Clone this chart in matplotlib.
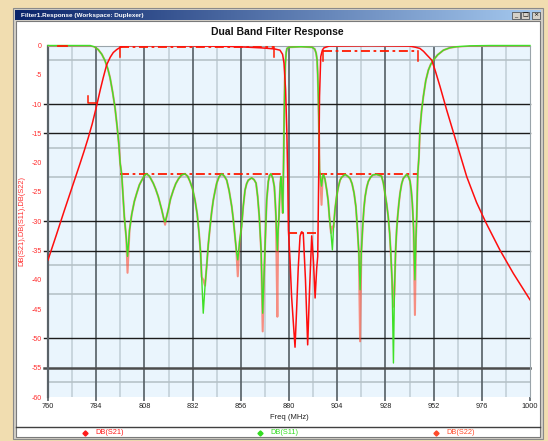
import numpy as np
import matplotlib
matplotlib.use("Agg")
import matplotlib.pyplot as plt
from matplotlib.patches import Rectangle
from matplotlib.lines import Line2D
from matplotlib.colors import LinearSegmentedColormap

plt.rcParams['font.family'] = ['Liberation Sans', 'DejaVu Sans']

W, H = 548, 441

# ---- data (MHz, dB) ----
s21_freq = [760, 764, 768, 772, 776, 778, 780, 782, 784, 786, 787.5, 789.2, 791, 792.5, 794.2,
            796, 797.4, 800, 820, 840, 850, 860, 866, 870, 873, 875.5, 876.8, 877.5, 878.3,
            878.9, 879.4, 879.7, 880.1, 880.5, 881.3, 882.2, 883, 883.8, 884.6, 885.5, 886.3,
            887.1, 888.2, 889.3, 890.2, 891.3, 892.2, 893, 893.8, 894.3, 894.8, 895.2, 895.8,
            896.6, 897.4, 900, 920, 940, 943, 945.2, 947, 948.6, 951.1, 953, 955.2, 958.5,
            963.5, 968.5, 973.4, 978, 985, 991.7, 1000]
s21_db = [-36.6, -32.5, -28.3, -24.2, -20.1, -18.0, -15.8, -13.4, -10.6, -7.6, -5.5, -3.3, -2.0,
          -1.2, -0.7, -0.3, -0.1, -0.05, -0.05, -0.1, -0.15, -0.3, -0.4, -0.5, -0.6, -0.8, -1.5,
          -3.0, -7.5, -14.4, -23, -31.5, -34, -36.6, -42.9, -47.5, -51.5, -45, -38, -32.5, -31.8,
          -32, -40, -51.1, -42, -32.5, -37, -43.1, -38, -36, -22, -8.7, -1.9,
          -0.8, -0.4, -0.1, -0.05, -0.1, -0.3, -0.5, -1.0, -1.6, -2.5, -4.5, -7, -11,
          -16.7, -22.4, -26.8, -30.2, -34.9, -38.9, -43.4]

s11_freq = [760, 770, 778, 781, 783, 785, 786.8, 788.4, 789.8, 790.9, 792.2, 793.4, 794.5, 795.3,
            795.9, 796.7, 798, 799, 799.6, 800.6, 801.7, 803, 804.2, 805.5, 806.7, 808, 809.1,
            810.5, 812.4, 813.6, 814.9, 816.6, 817.6, 818.3, 819, 819.9, 821, 822.4, 823.6,
            824.9, 826.5, 828.2, 829.5, 830.7, 832, 833.2, 834.3, 835.2, 836, 836.5, 837.3,
            838.2, 839, 839.8, 840.7, 841.5, 842.3, 843.2, 844, 845.2, 846.5, 847.8, 849,
            850.2, 851.5, 852.3, 853.1, 853.8, 854.5, 855.4, 856.4, 857.2, 858.1, 858.9, 859.7,
            861.4, 862.6, 863.6, 864.4, 865.2, 866.1, 866.9, 867.5, 868, 868.5, 868.9, 869.7,
            870.3, 871, 871.9, 872.7, 873.2, 873.5, 874.2, 874.6, 875, 875.4, 875.7, 876,
            876.4, 876.9, 877.3, 877.6, 877.9, 878.2, 878.6, 879, 880, 886, 891.5, 892.8,
            893.5, 894, 894.3, 894.6, 894.9, 895.2, 895.6, 896.2, 896.7, 897.1, 897.9, 898.8,
            899.5, 900.1, 900.9, 901.6, 902.2, 902.9, 903.7, 904.6, 905.4, 906.2, 907.9, 909.2,
            910.4, 911.4, 912.4, 913.3, 914, 914.8, 915.4, 916, 916.7, 917.3, 917.9, 918.7,
            919.5, 920.6, 921.7, 923.6, 926.1, 927, 927.8, 928.6, 929.4, 930.1, 930.6, 931.3,
            932, 932.5, 933.1, 933.6, 934.1, 934.7, 935.3, 936.1, 936.9, 938.6, 939.5, 940.3,
            940.9, 941.4, 942, 942.7, 943.2, 943.6, 944.1, 944.7, 945.2, 946, 946.9, 948.1,
            949.4, 950.6, 951.9, 954, 956.9, 960, 963.5, 970, 980, 1000]
s11_db = [0, 0, 0, 0, -0.2, -0.7, -1.5, -2.6, -4.0, -5.5, -8.0, -10.7, -14.1, -17.0,
          -20, -22, -29.2, -33, -36, -31.5, -28.8, -26.6, -25.2, -23.8, -23, -22.2, -21.9,
          -22.3, -23.5, -24.5, -25.8, -28, -29.5, -30.1, -29.3, -28, -26.2, -24.7, -23.6,
          -22.8, -22.1, -21.9, -22.3, -23.2, -24.5, -26.4, -28.8, -32, -35.5, -39.5, -45.7,
          -41, -37.7, -34, -30.9, -28.4, -26.4, -24.8, -23.5, -22.4, -21.9, -22.3, -23,
          -24.8, -27.5, -29.8, -32.6, -35, -36.6, -33.5, -30.9, -27.5, -24.7, -23.6, -23,
          -22.6, -22.9, -23.5, -25.8, -29.2, -34.9, -45.7, -40, -34.9, -30, -26.4, -23.2,
          -22.2, -21.9, -22.6, -24.1, -27, -29.2, -35, -31.5, -29.2, -25.5, -23.5, -22.4,
          -24.5, -28.6, -20, -12, -6, -3, -1.2, -0.5, -0.3, -0.2, -0.3, -0.6,
          -1.3, -2.5, -5, -8.7, -14, -21.2, -22.5, -24, -22.6, -22, -22.8, -24.7,
          -26.5, -29.2, -32, -34.9, -31, -28, -25.8, -24.1, -23, -22.5, -22, -22.3,
          -22.7, -23.6, -25.2, -27.5, -30.9, -35.5, -41.7, -35.5, -30.9, -27.8, -25.8, -24.2,
          -23.2, -22.5, -22.1, -22, -22.3, -23.5, -25.2, -27, -29.2, -32, -34.9, -40,
          -54.2, -42, -34.9, -31.5, -29.2, -27, -25.2, -23.6, -22.7, -22, -22.4, -23.2,
          -24.8, -26.9, -31, -40, -33, -29.2, -22, -19, -14.4, -11.2, -8.7, -6,
          -4.2, -3.2, -2.5, -1.6, -0.8, -0.4, -0.2, -0.05, 0, 0]

# S22 follows S11 except at the dips, where its depth differs
s22_dips = {799.6: -38.8, 818.3: -30.6, 837.3: -40, 854.5: -39.4, 866.9: -48.8,
            874.2: -46.3, 896.2: -27.2, 901.6: -30.9, 915.4: -50.5, 932: -44.6, 942.7: -46}

# spec masks: (f start, f end, level)
mask_lines = [(796, 872.5, -0.3), (796, 877, -22), (897, 944, -0.9),
              (894.6, 944, -22), (879.5, 893.5, -32)]
mask_ticks = [(796, -0.3, -2.0), (872.5, -0.3, -2.0), (897, -0.9, -2.6), (944, -0.9, -2.6)]
stop_mark_f = [779.9, 779.9, 784.2]
stop_mark_db = [-8.6, -9.9, -9.9]
top_mark_f = [765, 769.5]
top_mark_db = [0, 0]

x_ticks = list(range(760, 1001, 24))
y_ticks = list(range(0, -61, -5))
dark_h = [-10, -15, -30, -35, -50]
light_h = [-2.5, -17.5, -22.5, -37.5, -42.5, -57.5]
minor_v = list(range(772, 1000, 24))
legend_names = ['DB(S21)', 'DB(S11)', 'DB(S22)']


def fx(x):
    return x / W


def fy(y):
    return 1 - y / H


fig = plt.figure(figsize=(5.48, 4.41), dpi=100, facecolor='#f1ddb0')

# window frame and client area (behind the axes)
fig.add_artist(Rectangle((fx(13), fy(439)), fx(530), (439 - 8) / H, transform=fig.transFigure,
                         facecolor='#d4d0c8', edgecolor='#8a8a8a', lw=0.8, zorder=-3))
fig.add_artist(Rectangle((fx(16), fy(437)), fx(524), (437 - 21) / H, transform=fig.transFigure,
                         facecolor='white', edgecolor='#7a7a7a', lw=0.8, zorder=-2))

# title bar
tb = fig.add_axes([fx(15), fy(20), fx(526), 10 / H])
tb.imshow(np.linspace(0, 1, 256)[None, :], aspect='auto', extent=[0, 1, 0, 1],
          cmap=LinearSegmentedColormap.from_list('tb', ['#0a246a', '#a6caf0']))
tb.axis('off')
tb.text(0.012, 0.5, 'Filter1.Response (Workspace: Duplexer)', color='white', fontsize=4.6,
        fontweight='bold', va='center', ha='left', transform=tb.transAxes)
for bx, sym in zip([512, 521, 532], ['_', '□', '×']):
    fig.add_artist(Rectangle((fx(bx), fy(18.5)), 8 / W, 7 / H, transform=fig.transFigure,
                             facecolor='#d4d0c8', edgecolor='#404040', lw=0.5, zorder=2))
    fig.text(fx(bx + 4), fy(15), sym, fontsize=4.5, ha='center', va='center',
             family=['DejaVu Sans'], zorder=3)

fig.text(fx(277.5), fy(32), 'Dual Band Filter Response', fontsize=7.5, fontweight='bold',
         ha='center', va='center', color='#111111')

ax = fig.add_axes([fx(48), fy(397), 482 / W, (397 - 45.5) / H])
ax.set_facecolor('#eaf5fd')
ax.set_xlim(760, 1000)
ax.set_ylim(-60, 0)

for x in minor_v:
    ax.axvline(x, color='#c3d0d8', lw=1.2, zorder=1)
for y in light_h:
    ax.axhline(y, color='#b3bfc4', lw=1.1, zorder=1)
for x in x_ticks[1:-1]:
    ax.axvline(x, color='#555e64', lw=1.2, zorder=1.5)
for y in dark_h:
    ax.axhline(y, xmin=-0.009, color='#1c1c1c', lw=1.0, zorder=1.5, clip_on=False)
ax.axhline(-55, xmin=-0.009, color='#4c4c4c', lw=1.8, zorder=1.5, clip_on=False)

# masks
for f0, f1, lvl in mask_lines:
    ax.plot([f0, f1], [lvl, lvl], color='#ff1a00', lw=1.3, ls=(0, (5, 2, 1.5, 2)), zorder=3)
for f, a, b in mask_ticks:
    ax.plot([f, f], [a, b], color='#ff1a00', lw=1.1, zorder=3)
ax.plot(stop_mark_f, stop_mark_db, color='#ff1a00', lw=1.1, zorder=3)
ax.plot(top_mark_f, top_mark_db, color='#ff1a00', lw=1.3, zorder=5, clip_on=False)

s22_db = [s22_dips.get(f, d) for f, d in zip(s11_freq, s11_db)]
ax.plot(s11_freq, s22_db, color='#ff4a30', lw=1.5, alpha=0.6, zorder=3.5)
ax.plot(s11_freq, s11_db, color='#3fe026', lw=1.0, zorder=4, clip_on=False)
ax.plot(s21_freq, s21_db, color='#ff0d0d', lw=1.1, zorder=4.5)

ax.set_xticks(x_ticks)
ax.set_yticks(y_ticks)
ax.set_yticklabels([str(v) for v in y_ticks])
ax.tick_params(axis='x', length=3, width=1.2, color='#555e64', pad=1.5, labelsize=5.3,
               labelcolor='#222222')
ax.tick_params(axis='y', length=0, pad=4.5, labelsize=5, labelcolor='#ff2a2a')
for side in ['top', 'right', 'bottom']:
    ax.spines[side].set_color('#9aa4aa')
    ax.spines[side].set_linewidth(0.8)
ax.spines['left'].set_color('#5a6268')
ax.spines['left'].set_linewidth(1.6)
ax.spines['bottom'].set_visible(False)

ax.set_xlabel('Freq (MHz)', fontsize=5.5, labelpad=3, color='#222222')
ax.set_ylabel('DB(S21),DB(S11),DB(S22)', fontsize=5.4, color='#ff3030')
ax.yaxis.set_label_coords(-0.047, 0.5)

# legend strip
fig.add_artist(Line2D([fx(16), fx(540)], [fy(427), fy(427)], transform=fig.transFigure,
                      color='#404040', lw=1.0))
for mx, name, col in zip([85, 260, 436], legend_names, ['#ff1a1a', '#33dd22', '#ff4a2a']):
    fig.add_artist(Line2D([fx(mx)], [fy(432.5)], transform=fig.transFigure, marker='D',
                          markersize=2.6, color=col, lw=0))
    fig.text(fx(mx + 10), fy(432.5), name, fontsize=5.3, color=col, ha='left', va='center')

fig.savefig('out.png', dpi=100, facecolor=fig.get_facecolor())
